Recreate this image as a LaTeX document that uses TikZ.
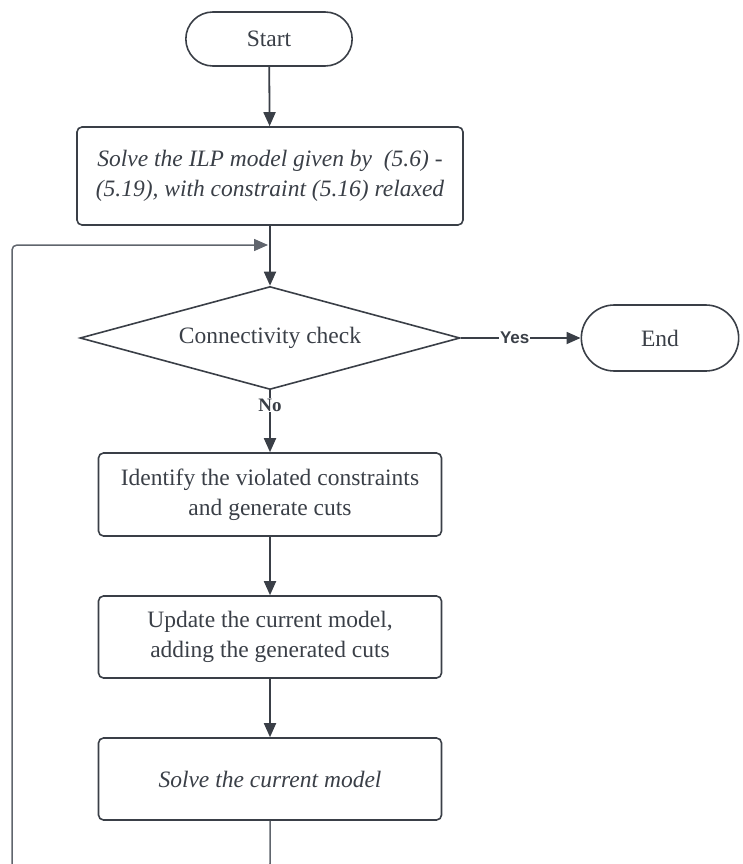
\documentclass[tikz,border=0pt]{standalone}
\usepackage{fontspec}
\setmainfont{Liberation Serif}
\newfontfamily\labelsans{Liberation Sans}
\usetikzlibrary{shapes.geometric,shapes.misc,arrows.meta}

\definecolor{inkgray}{HTML}{3A3F47}
\definecolor{loopgray}{HTML}{60656D}

\tikzset{
  term/.style={draw=inkgray, line width=1.6pt, rounded rectangle, text=inkgray,
    font=\fontsize{23.5}{30}\selectfont},
  proc/.style={draw=inkgray, line width=1.6pt, rounded corners=5pt, text=inkgray,
    align=center, font=\fontsize{23.5}{30}\selectfont},
  check/.style={draw=inkgray, line width=1.6pt, diamond, aspect=3.7, inner sep=0pt,
    text=inkgray, font=\fontsize{23.5}{30}\selectfont},
  flow/.style={draw=inkgray, line width=1.8pt, -{Triangle[length=14pt,width=12pt]}},
}

\begin{document}
\begin{tikzpicture}[x=1pt,y=-1pt]
  \useasboundingbox (0,0) rectangle (742,864);

  \node[term, minimum width=173pt, minimum height=54pt] (start) at (269,39) {Start};
  \node[proc, minimum width=386pt, minimum height=98pt] (ilp) at (270,176)
    {\itshape Solve the ILP model given by\ \ (5.6) -\\ \itshape (5.19), with constraint (5.16) relaxed};
  \node[check, minimum width=380pt, minimum height=103pt] (conn) at (270,338) {Connectivity check};
  \node[term, minimum width=164pt, minimum height=66pt] (stop) at (660,338) {End};
  \node[proc, minimum width=343pt, minimum height=83pt] (cuts) at (270,494.5)
    {Identify the violated constraints\\ and generate cuts};
  \node[proc, minimum width=343pt, minimum height=82pt] (upd) at (270,637)
    {Update the current model,\\ adding the generated cuts};
  \node[proc, minimum width=343pt, minimum height=82pt] (solve) at (270,779)
    {\itshape Solve the current model};

  \coordinate (join) at (268,245);

  \draw[flow] (start) -- (ilp);
  \draw[flow] (ilp) -- (conn);
  \draw[flow] (conn.east) -- node[pos=0.45, fill=white, inner sep=1pt, text=inkgray,
    font=\labelsans\bfseries\fontsize{17}{19}\selectfont] {Yes} (stop);
  \draw[flow] (conn.south) -- node[pos=0.24, fill=white, inner sep=1pt, text=inkgray,
    font=\bfseries\fontsize{19}{21}\selectfont] {No} (cuts);
  \draw[flow] (cuts) -- (upd);
  \draw[flow] (upd) -- (solve);

  % back to the check
  \draw[loopgray, line width=1.5pt, rounded corners=5pt, -{Triangle[length=14pt,width=12pt]}]
    (solve.south) -- ++(0,48) -| (12,245) -- (join);
\end{tikzpicture}
\end{document}
